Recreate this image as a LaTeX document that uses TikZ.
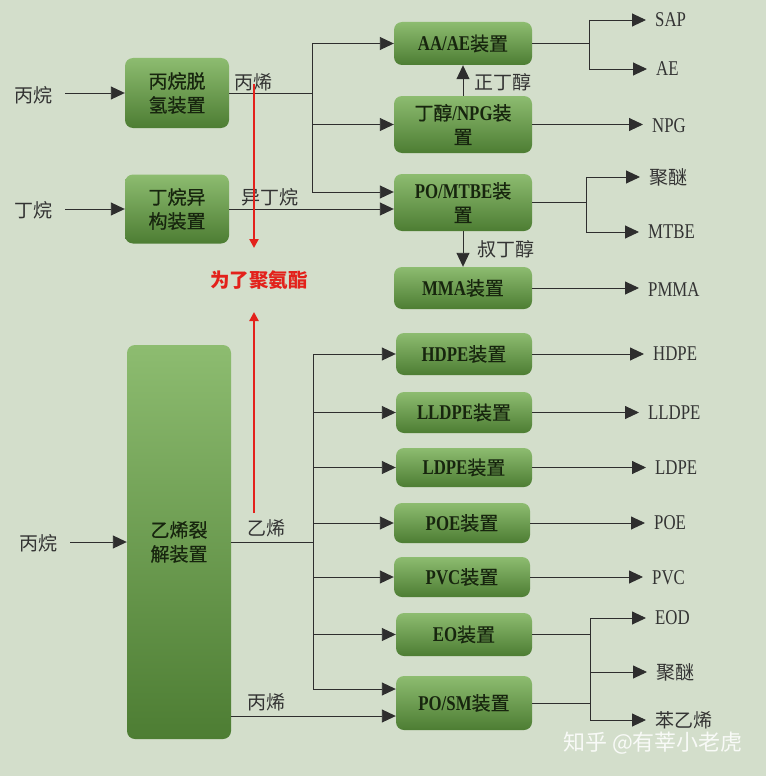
\documentclass[tikz,border=0pt]{standalone}
\usepackage{fontspec}
\setmainfont{Liberation Serif}[FakeStretch=0.8]
\newfontfamily\cjk{Noto Sans CJK SC}
\newfontfamily\cjkm{Noto Sans CJK SC}[FakeBold=0.5]
\usetikzlibrary{arrows.meta}
\definecolor{bg}{HTML}{D3DECB}
\definecolor{gtop}{HTML}{8DBC70}
\definecolor{gbot}{HTML}{4D7D33}
\definecolor{lnc}{HTML}{2E2E2E}
\definecolor{txt}{HTML}{333333}
\definecolor{boxtxt}{HTML}{17250E}
\definecolor{redc}{HTML}{E3211B}
\tikzset{
  unit/.style={rounded corners=8pt, top color=gtop, bottom color=gbot, draw=none, inner sep=0pt,
    align=center, text=boxtxt, font=\fontsize{21}{24}\selectfont\bfseries},
  lbl/.style={text=txt, inner sep=0pt, font=\fontsize{19}{23}\selectfont\cjk},
  outl/.style={text=txt, inner sep=0pt, anchor=west, font=\fontsize{21}{23}\selectfont},
  conn/.style={draw=lnc, line width=0.9pt},
  arr/.style={conn, -{Triangle[length=14pt,width=13pt]}},
  outarr/.style={arr, shorten >=9pt},
  redarr/.style={draw=redc, line width=2.8pt, -{Triangle[length=9pt,width=9pt]}},
  wmark/.style={text=white, opacity=0.85, inner sep=0pt, font=\fontsize{22}{24}\selectfont\cjk},
}
\newcommand{\zh}[1]{{\fontsize{19}{24}\selectfont\cjkm\mdseries #1}}
\newcommand{\zo}[1]{{\fontsize{19}{24}\selectfont\cjk #1}}
\begin{document}
\begin{tikzpicture}[x=1pt,y=-1pt]
\fill[bg] (0,0) rectangle (766,776);
\useasboundingbox (0,0) rectangle (766,776);

% units
\node[unit, minimum width=104pt, minimum height=70pt] (pdh) at (177,93) {\zh{丙烷脱}\\\zh{氢装置}};
\node[unit, minimum width=104pt, minimum height=69pt] (iso) at (177,209) {\zh{丁烷异}\\\zh{构装置}};
\node[unit, minimum width=104pt, minimum height=394pt] (crk) at (179,542) {\zh{乙烯裂}\\\zh{解装置}};
\node[unit, minimum width=138pt, minimum height=43pt] (aa) at (463,43.5) {AA/AE\zh{装置}};
\node[unit, minimum width=138pt, minimum height=57pt] (bu) at (463,124.5) {\zh{丁醇}/NPG\zh{装}\\\zh{置}};
\node[unit, minimum width=138pt, minimum height=57pt] (po) at (463,202.5) {PO/MTBE\zh{装}\\\zh{置}};
\node[unit, minimum width=138pt, minimum height=42pt] (mma) at (463,288) {MMA\zh{装置}};
\node[unit, minimum width=136pt, minimum height=42pt] (hdpe) at (464,354) {HDPE\zh{装置}};
\node[unit, minimum width=136pt, minimum height=41pt] (lldpe) at (464,412.5) {LLDPE\zh{装置}};
\node[unit, minimum width=136pt, minimum height=39pt] (ldpe) at (464,467.5) {LDPE\zh{装置}};
\node[unit, minimum width=136pt, minimum height=40pt] (poe) at (462,523) {POE\zh{装置}};
\node[unit, minimum width=136pt, minimum height=40pt] (pvc) at (462,577) {PVC\zh{装置}};
\node[unit, minimum width=136pt, minimum height=43pt] (eo) at (464,634.5) {EO\zh{装置}};
\node[unit, minimum width=136pt, minimum height=54pt] (posm) at (464,703) {PO/SM\zh{装置}};

% inputs
\node[lbl] (in1) at (33,95) {丙烷};
\node[lbl] (in2) at (33,210) {丁烷};
\node[lbl] (in3) at (38,543) {丙烷};
\draw[arr] ([xshift=13pt]in1.east |- pdh.west) -- (pdh.west);
\draw[arr] ([xshift=13pt]in2.east |- iso.west) -- (iso.west);
\draw[arr] ([xshift=13pt]in3.east |- crk.west) -- (crk.west);

% line labels
\node[lbl] (l1) at (253,82) {丙烯};
\node[lbl] (l2) at (270,197) {异丁烷};
\node[lbl] (l3) at (503,82) {正丁醇};
\node[lbl] (l4) at (506,249) {叔丁醇};
\node[lbl] (l5) at (266,528) {乙烯};
\node[lbl] (l6) at (266,702) {丙烯};

% top left distribution
\coordinate (ja) at (312,43.5);
\coordinate (jc) at (312,192);
\draw[conn] (pdh.east) -- (pdh.east -| ja);
\draw[conn] (ja) -- (jc);
\draw[arr] (ja) -- (aa.west);
\draw[arr] (ja |- bu.west) -- (bu.west);
\draw[arr] (jc) -- (jc -| po.west);
\draw[arr] (iso.east) -- (iso.east -| po.west);
\draw[arr] (bu.north) -- (aa.south);
\draw[arr] (po.south) -- (mma.north);

% outputs top
\node[outl] (sap) at (655,20) {SAP};
\node[outl] (ae) at (656,69) {AE};
\node[outl] (npg) at (652,126) {NPG};
\node[outl] (pe1) at (649,177) {\zo{聚醚}};
\node[outl] (mtbe) at (648,232) {MTBE};
\node[outl] (pmma) at (648,290) {PMMA};
\coordinate (ka) at (589,43.5);
\draw[conn] (aa.east) -- (ka);
\draw[conn] (ka |- sap.west) -- (ka |- ae.west);
\draw[outarr] (ka |- sap.west) -- (sap.west);
\draw[outarr] (ka |- ae.west) -- (ae.west);
\draw[outarr] (bu.east) -- (bu.east -| npg.west);
\coordinate (kb) at (586,202.5);
\draw[conn] (po.east) -- (kb);
\draw[conn] (kb |- pe1.west) -- (kb |- mtbe.west);
\draw[outarr] (kb |- pe1.west) -- (pe1.west);
\draw[outarr] (kb |- mtbe.west) -- (mtbe.west);
\draw[outarr] (mma.east) -- (mma.east -| pmma.west);

% bottom distribution
\coordinate (vx) at (313,542);
\draw[conn] (crk.east) -- (vx);
\draw[conn] (vx |- hdpe.west) -- (313,689);
\draw[arr] (vx |- hdpe.west) -- (hdpe.west);
\draw[arr] (vx |- lldpe.west) -- (lldpe.west);
\draw[arr] (vx |- ldpe.west) -- (ldpe.west);
\draw[arr] (vx |- poe.west) -- (poe.west);
\draw[arr] (vx |- pvc.west) -- (pvc.west);
\draw[arr] (vx |- eo.west) -- (eo.west);
\coordinate (pa) at (313,689);
\draw[arr] (pa) -- (pa -| posm.west);
\coordinate (pb) at (231,716);
\draw[arr] (pb) -- (pb -| posm.west);

% outputs bottom
\node[outl] (o1) at (653,354) {HDPE};
\node[outl] (o2) at (648,413) {LLDPE};
\node[outl] (o3) at (655,468) {LDPE};
\node[outl] (o4) at (654,523) {POE};
\node[outl] (o5) at (652,578) {PVC};
\node[outl] (o6) at (655,618) {EOD};
\node[outl] (o7) at (656,672) {\zo{聚醚}};
\node[outl] (o8) at (655,720) {\zo{苯乙烯}};
\draw[outarr] (hdpe.east) -- (hdpe.east -| o1.west);
\draw[outarr] (lldpe.east) -- (lldpe.east -| o2.west);
\draw[outarr] (ldpe.east) -- (ldpe.east -| o3.west);
\draw[outarr] (poe.east) -- (poe.east -| o4.west);
\draw[outarr] (pvc.east) -- (pvc.east -| o5.west);
\coordinate (kc) at (590,634.5);
\draw[conn] (eo.east) -- (kc);
\draw[conn] (kc |- o6.west) -- (kc |- o8.west);
\draw[conn] (posm.east) -- (posm.east -| kc);
\draw[outarr] (kc |- o6.west) -- (o6.west);
\draw[outarr] (kc |- o7.west) -- (o7.west);
\draw[outarr] (kc |- o8.west) -- (o8.west);

% red annotation
\node[inner sep=0pt, text=redc, font=\fontsize{19.5}{22}\selectfont\cjk\bfseries] (pu) at (259,280) {为了聚氨酯};
\coordinate (r1) at (254,84);
\coordinate (r2) at (254,513);
\coordinate (t1) at (254,248);
\coordinate (t2) at (254,312);
\draw[redarr] (r1) -- (t1);
\draw[redarr] (r2) -- (t2);

% watermark
\node[wmark] (wm) at (653,743) {知乎 @有莘小老虎};
\end{tikzpicture}
\end{document}
